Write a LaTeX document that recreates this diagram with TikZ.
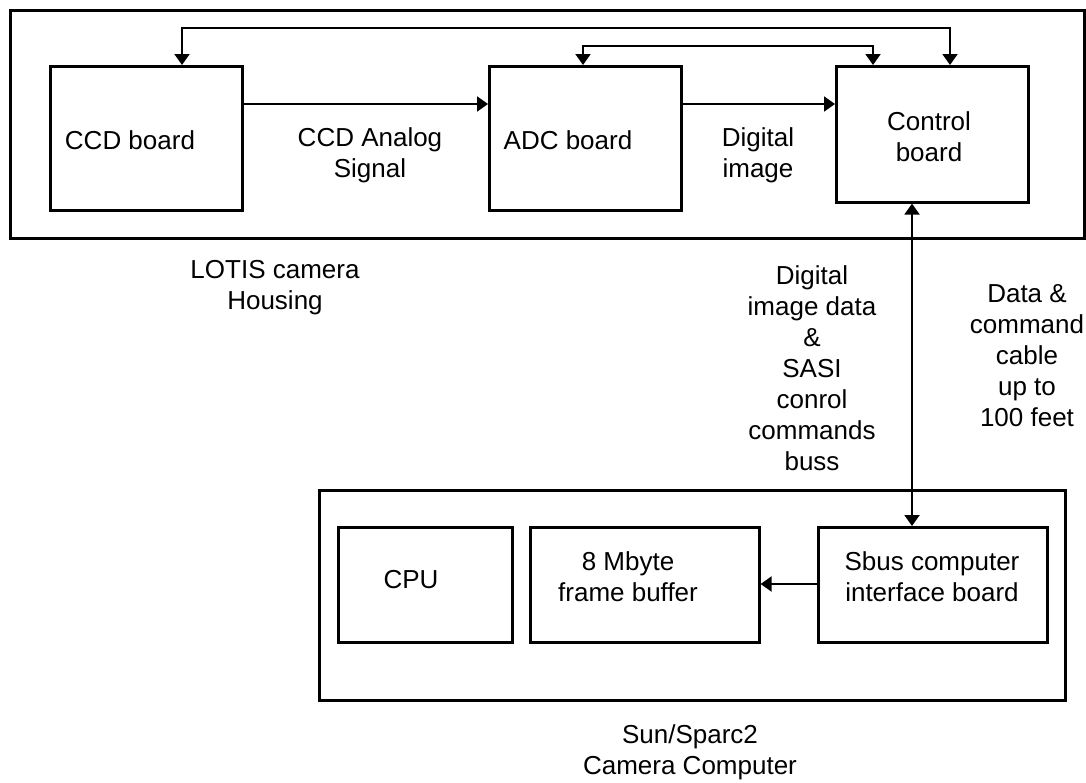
\documentclass[tikz,border=0pt]{standalone}
\usepackage{fontspec}
\setmainfont{Liberation Sans}
\usetikzlibrary{arrows.meta}
\begin{document}
\begin{tikzpicture}[x=1pt,y=-1pt,
  box/.style={draw=black,line width=2.6pt,inner sep=0pt,anchor=north west},
  lbl/.style={align=center,inner sep=0pt,font=\fontsize{26}{31}\selectfont},
  conn/.style={line width=2pt,-{Triangle[width=15pt,length=11pt]}},
  conn2/.style={line width=2pt,{Triangle[width=15pt,length=11pt]}-{Triangle[width=15pt,length=11pt]}}]
\useasboundingbox (0,0) rectangle (1086,782);
% containers
\node[box,minimum width=1074pt,minimum height=228pt] (house) at (9,9) {};
\node[box,minimum width=746pt,minimum height=210pt] (comp) at (318,489) {};
% boards
\node[box,minimum width=192pt,minimum height=144pt] (ccd) at (49,65) {};
\node[box,minimum width=192pt,minimum height=144pt] (adc) at (488,65) {};
\node[box,minimum width=192pt,minimum height=136pt] (ctrl) at (835,65) {};
\node[box,minimum width=174pt,minimum height=115pt] (cpu) at (337,526) {};
\node[box,minimum width=229pt,minimum height=115pt] (fb) at (529,526) {};
\node[box,minimum width=229pt,minimum height=115pt] (sbus) at (817,526) {};
% texts
\node[lbl] (tccd) at (130,140) {CCD board};
\node[lbl] (tana) at (370,155) {CCD Analog\\Signal};
\node[lbl] (tadc) at (568,140) {ADC board};
\node[lbl] (tdig) at (758,155) {Digital\\image};
\node[lbl] (tctrl) at (929,137) {Control\\board};
\node[lbl] (tlotis) at (275,288) {LOTIS camera\\Housing};
\node[lbl] (tbus) at (812,368) {Digital\\image data\\\&\\SASI\\conrol\\commands\\buss};
\node[lbl] (tcable) at (1027,356) {Data \&\\command\\cable\\up to\\100 feet};
\node[lbl] (tcpu) at (411,580) {CPU};
\node[lbl] (tfb) at (628,577) {8 Mbyte\\frame buffer};
\node[lbl] (tsbus) at (932,577) {Sbus computer\\interface board};
\node[lbl] (tsun) at (690,752) {Sun/Sparc2\\Camera Computer};
% helper coordinates
\coordinate (yA) at (0,104);
\coordinate (yL) at (0,28);
\coordinate (yS) at (0,46);
\coordinate (x1) at (182,0);
\coordinate (x2) at (950,0);
\coordinate (x3) at (583,0);
\coordinate (x4) at (873,0);
\coordinate (x5) at (912,0);
\coordinate (yF) at (0,584);
% connectors
\draw[conn] (ccd.east |- yA) -- (adc.west |- yA);
\draw[conn] (adc.east |- yA) -- (ctrl.west |- yA);
\draw[conn2] (x1 |- ccd.north) -- (x1 |- yL) -- (x2 |- yL) -- (x2 |- ctrl.north);
\draw[conn2] (x3 |- adc.north) -- (x3 |- yS) -- (x4 |- yS) -- (x4 |- ctrl.north);
\draw[conn2] (x5 |- ctrl.south) -- (x5 |- sbus.north);
\draw[conn] (sbus.west |- yF) -- (fb.east |- yF);
\end{tikzpicture}
\end{document}
